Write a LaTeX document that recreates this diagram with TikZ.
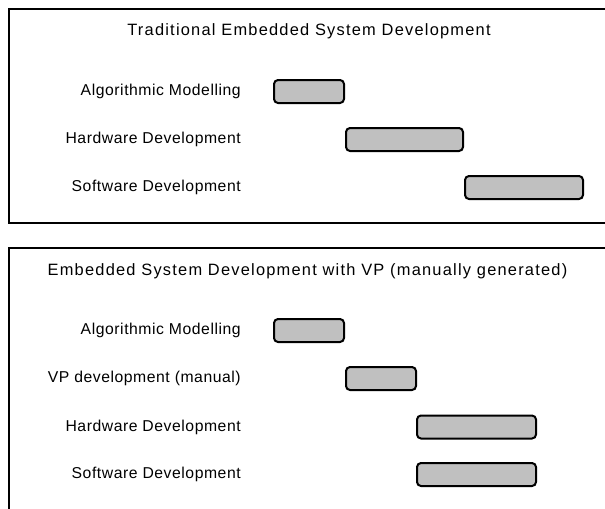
\documentclass[tikz,border=0pt]{standalone}
\usepackage{fontspec}
\setmainfont{Liberation Sans}
\newfontfamily\labelfont[LetterSpace=3.5]{Liberation Sans}
\newfontfamily\titlefont[LetterSpace=7.5]{Liberation Sans}
\definecolor{barfill}{HTML}{C0C0C0}
\begin{document}
\begin{tikzpicture}[x=0.75pt,y=-0.75pt,
  frame/.style={draw=black,line width=1.5pt},
  bar/.style={draw=black,line width=1.5pt,fill=barfill,rounded corners=3pt,
    minimum height=17.25pt,minimum width={(#1-2)*0.75pt},inner sep=0pt},
  tasklabel/.style={anchor=base east,inner sep=0pt,font=\labelfont\fontsize{11.8pt}{13pt}\selectfont},
  heading/.style={anchor=base,inner sep=0pt,font=\titlefont\fontsize{12.3pt}{14pt}\selectfont}]
\useasboundingbox (0,0) rectangle (605,508);

% upper panel: traditional flow
\draw[frame] (620,9) -- (9,9) -- (9,223) -- (620,223);
\node[heading] (t1) at (309,35) {Traditional Embedded System Development};
\node[tasklabel] (l1a) at (241,95.5) {Algorithmic Modelling};
\node[tasklabel] (l1b) at (241,143) {Hardware Development};
\node[tasklabel] (l1c) at (241,191.5) {Software Development};
\node[bar=72] (b1a) at (309,91.5) {};
\node[bar=119] (b1b) at (404.5,139.5) {};
\node[bar=120] (b1c) at (524,187.5) {};

% lower panel: flow with a manually built virtual prototype
\draw[frame] (620,248) -- (9,248) -- (9,520);
\node[heading] (t2) at (307.5,275) {Embedded System Development with VP (manually generated)};
\node[tasklabel] (l2a) at (241,334.5) {Algorithmic Modelling};
\node[tasklabel] (l2b) at (241,382.5) {VP development (manual)};
\node[tasklabel] (l2c) at (241,431) {Hardware Development};
\node[tasklabel] (l2d) at (241,478.5) {Software Development};
\node[bar=72] (b2a) at (309,330.5) {};
\node[bar=72] (b2b) at (381,378.5) {};
\node[bar=121] (b2c) at (476.5,427) {};
\node[bar=121] (b2d) at (476.5,474.5) {};
\end{tikzpicture}
\end{document}
